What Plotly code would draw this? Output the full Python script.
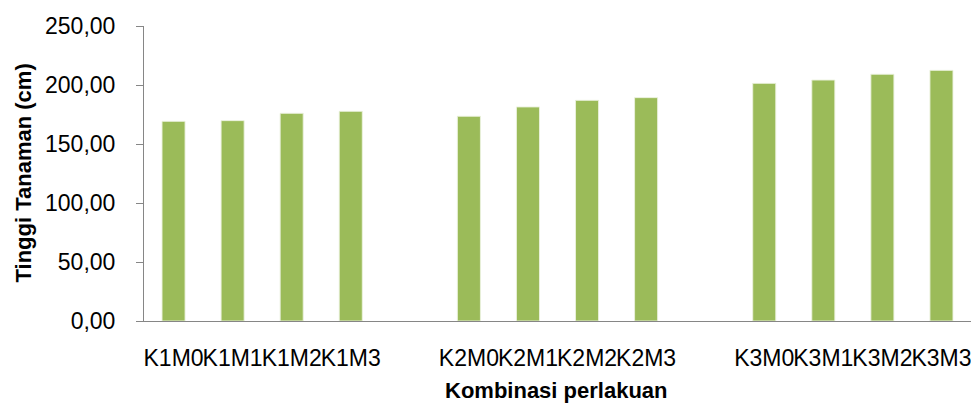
import plotly.graph_objects as go

# Plant height (cm) per treatment combination, three groups of four
group_k1 = ["K1M0", "K1M1", "K1M2", "K1M3"]
group_k2 = ["K2M0", "K2M1", "K2M2", "K2M3"]
group_k3 = ["K3M0", "K3M1", "K3M2", "K3M3"]

height_k1 = [169.2, 169.8, 176.0, 177.7]
height_k2 = [173.5, 181.4, 187.0, 189.3]
height_k3 = [201.4, 204.2, 209.1, 212.4]

y_ticks = [0, 50, 100, 150, 200, 250]
y_tick_text = ["0,00", "50,00", "100,00", "150,00", "200,00", "250,00"]

# empty slots separate the groups on the category axis
spacers = [" ", "  "]
category_order = group_k1 + [spacers[0]] + group_k2 + [spacers[1]] + group_k3

categories = group_k1 + group_k2 + group_k3
heights = height_k1 + height_k2 + height_k3

W, H = 971, 406
ML, MR, MT, MB = 144, 0, 26, 85
plot_w = W - ML - MR
plot_h = H - MT - MB

FONT = "Liberation Sans"
BAR_GREEN = "#9BBB59"
AXIS_GREY = "#868686"

fig = go.Figure(
    go.Bar(
        x=categories,
        y=heights,
        marker=dict(color=BAR_GREEN, line=dict(color="rgba(235,242,222,0.9)", width=1)),
        hoverinfo="x+y",
    )
)

fig.update_layout(
    width=W,
    height=H,
    margin=dict(l=ML, r=MR, t=MT, b=MB, autoexpand=False),
    paper_bgcolor="white",
    plot_bgcolor="white",
    bargap=0.61,
    showlegend=False,
    font=dict(family=FONT, size=23, color="#000000"),
)

fig.update_xaxes(
    type="category",
    categoryorder="array",
    categoryarray=category_order,
    showline=True,
    linecolor=AXIS_GREY,
    linewidth=1,
    ticks="",
    showgrid=False,
    tickfont=dict(family=FONT, size=23, color="#000000"),
    ticklabelstandoff=16,
    automargin=False,
    tickangle=0,
)

fig.update_yaxes(
    range=[0, 250],
    tickvals=y_ticks,
    ticktext=y_tick_text,
    showline=True,
    linecolor=AXIS_GREY,
    linewidth=1,
    ticks="outside",
    ticklen=7,
    tickcolor=AXIS_GREY,
    showgrid=False,
    zeroline=False,
    tickfont=dict(family=FONT, size=23, color="#000000"),
    ticklabelstandoff=16,
    automargin=False,
)

# axis titles
fig.add_annotation(
    text="<b>Kombinasi perlakuan</b>",
    xref="paper", yref="paper",
    x=(556 - ML) / plot_w, y=(-(405 - (MT + plot_h))) / plot_h,
    xanchor="center", yanchor="bottom",
    showarrow=False,
    font=dict(family=FONT, size=22, color="#000000"),
)
fig.add_annotation(
    text="<b>Tinggi Tanaman (cm)</b>",
    xref="paper", yref="paper",
    x=(23 - ML) / plot_w, y=0.5,
    xanchor="center", yanchor="middle",
    textangle=-90,
    showarrow=False,
    font=dict(family=FONT, size=22, color="#000000"),
)

fig.write_html("out.html")
